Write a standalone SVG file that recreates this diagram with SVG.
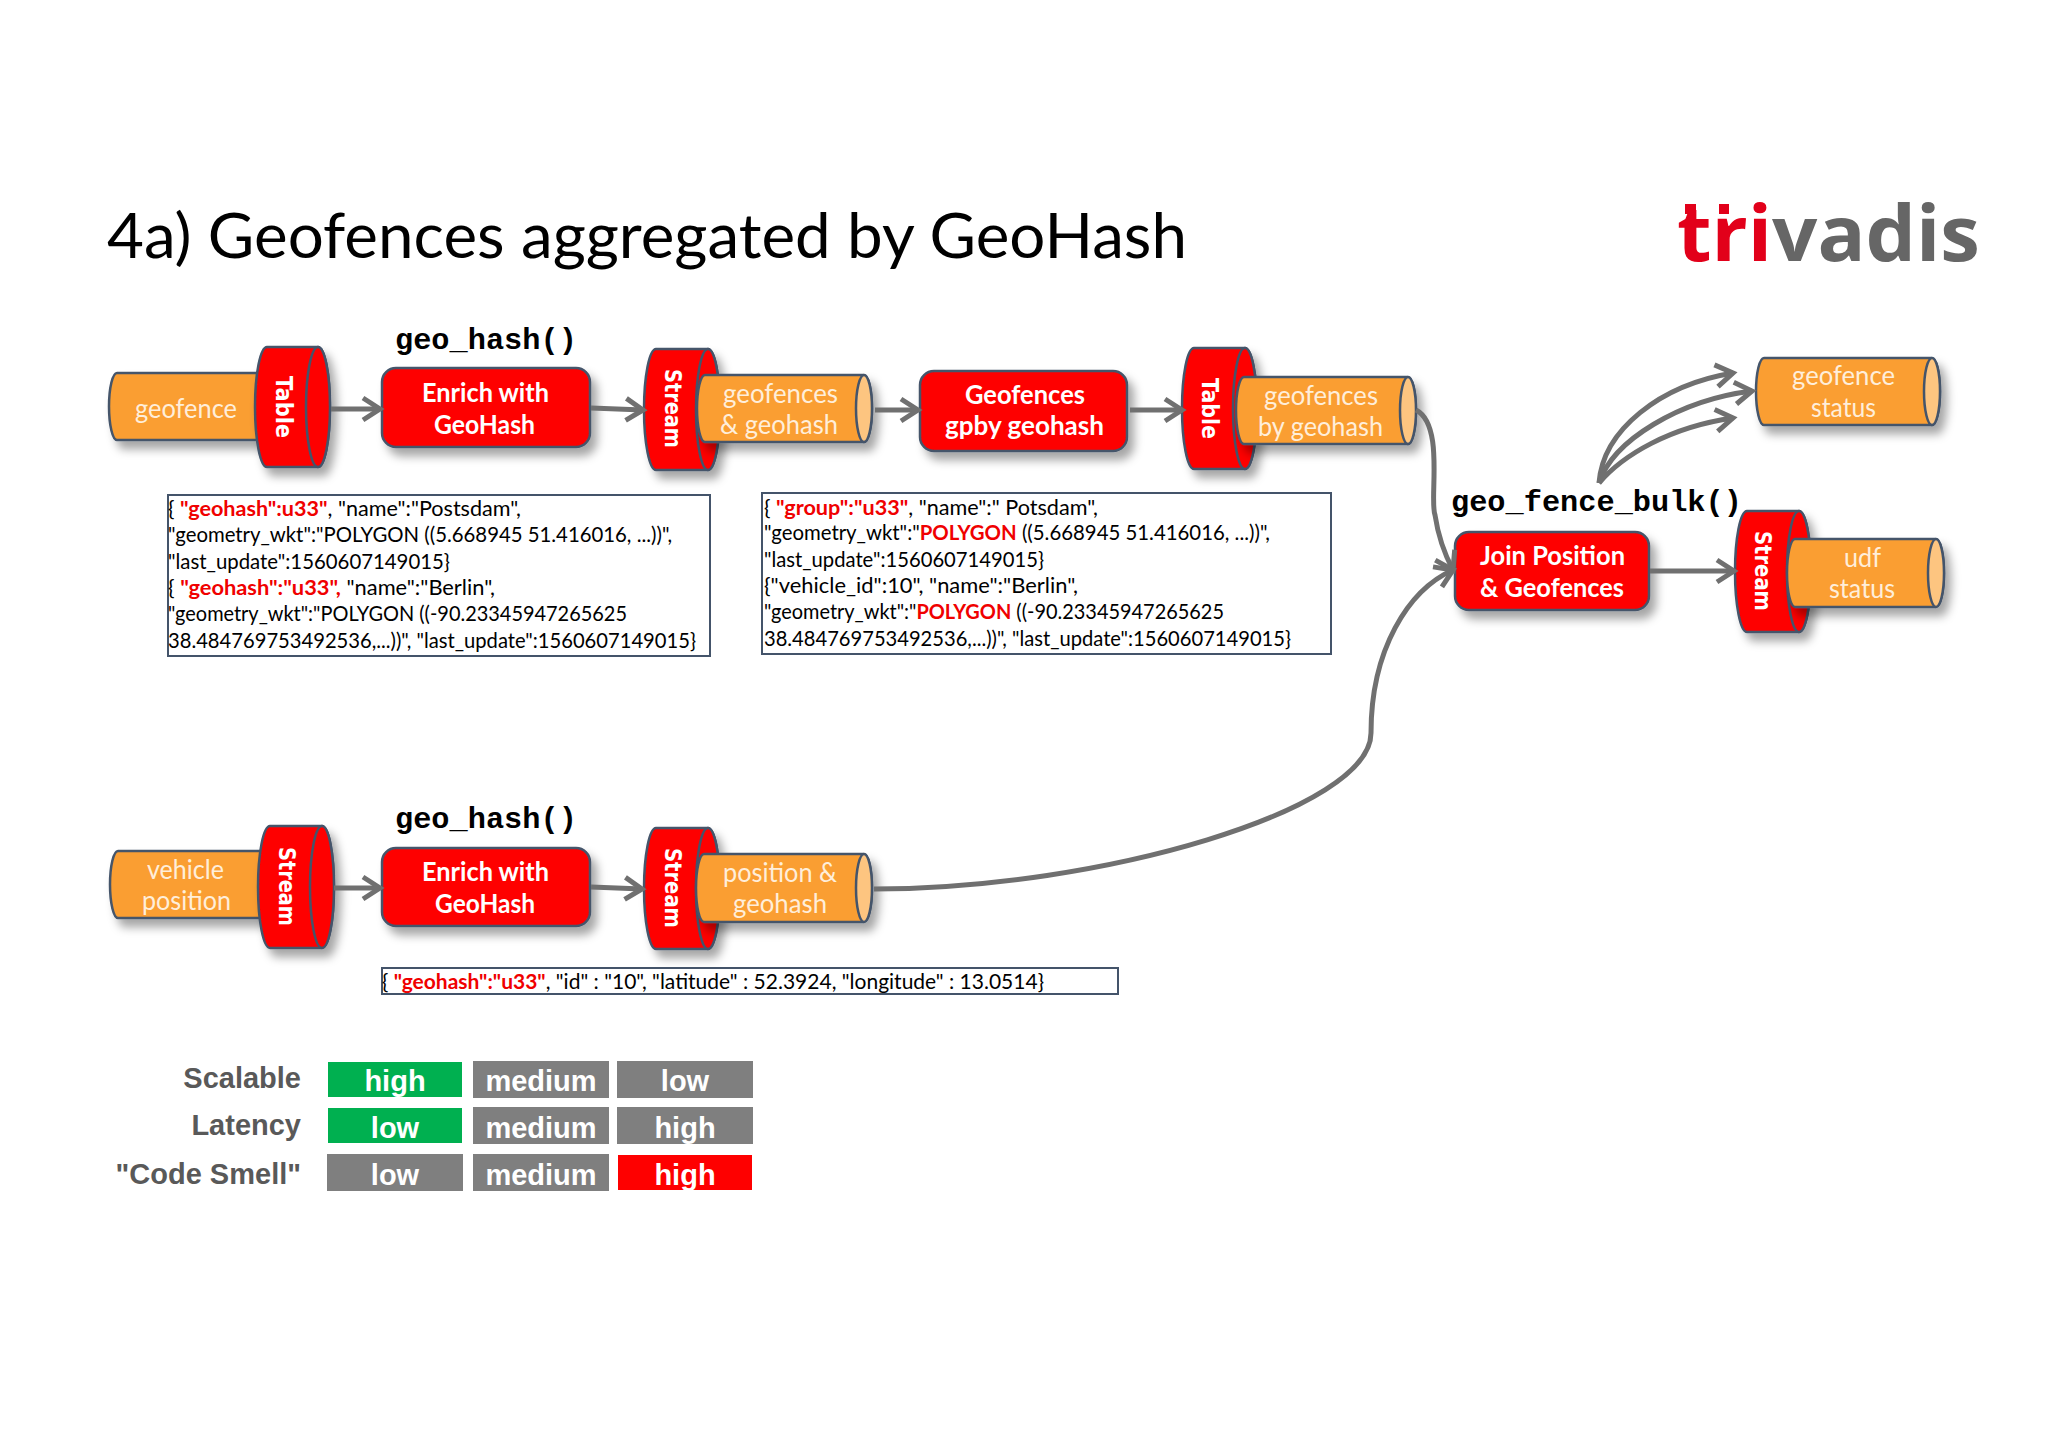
<svg xmlns="http://www.w3.org/2000/svg" width="2048" height="1447" viewBox="0 0 2048 1447">
<style>
text{font-family:Lato,"Liberation Sans",sans-serif}
.o{fill:#fa9e32;stroke:#44546a;stroke-width:2.5;filter:url(#sh)}
.oe{fill:#fdc580;stroke:#44546a;stroke-width:2.5}
.r{fill:#fe0000;stroke:#44546a;stroke-width:2.5;filter:url(#sh)}
.re{fill:#fe0000;stroke:#44546a;stroke-width:2.5}
.ot{fill:#ffeeda;font-size:27px;text-anchor:start}
.rt{fill:#fff;font-size:27px;font-weight:700}
.vt{fill:#fff;font-family:"DejaVu Sans",sans-serif;font-size:23px;font-weight:700}
.fn{font-family:"Liberation Mono",monospace;font-weight:700;font-size:30.3px;fill:#000}
.box{fill:#fff;stroke:#44546a;stroke-width:2}
.j{font-size:20.5px;fill:#000}
.k{font-weight:700;fill:#f00000}
.lb{font-family:"Liberation Sans",sans-serif;font-weight:700;font-size:29px;fill:#595959;text-anchor:end}
.cv{font-family:"Liberation Sans",sans-serif;font-weight:700;font-size:29px;fill:#fff;text-anchor:middle}
.g{fill:#00b050}.y{fill:#7f7f7f}.d{fill:#fe0000}
.c{fill:none;stroke:#707070;stroke-width:5;marker-end:url(#ar)}
</style>
<defs>
<filter id="sh" x="-20%" y="-20%" width="150%" height="150%"><feDropShadow dx="6" dy="8" stdDeviation="5" flood-color="#000" flood-opacity="0.35"/></filter>
<marker id="ar" markerUnits="userSpaceOnUse" markerWidth="32" markerHeight="32" refX="23" refY="16" orient="auto"><path d="M6 5 L23 16 L6 27" fill="none" stroke="#707070" stroke-width="5"/></marker>
</defs>
<rect width="2048" height="1447" fill="#fff"/>
<text id="title" x="107" y="258" font-size="62" fill="#000" textLength="1080" lengthAdjust="spacingAndGlyphs">4a) Geofences aggregated by GeoHash</text>
<g id="logo">
<rect x="1685" y="204" width="11" height="10" fill="#e2001a"/><rect x="1719" y="204" width="10" height="10" fill="#e2001a"/>
<text x="1677" y="261" style="font-family:'Open Sans',sans-serif;font-weight:700;font-size:77px" fill="#666" textLength="303" lengthAdjust="spacingAndGlyphs"><tspan fill="#e2001a">tri</tspan>vadis</text>
</g>

<g id="geofence"><path class="o" d="M117 373H262V440H117A8 33.5 0 0 1 117 373Z"/><text class="ot" x="135" y="418" textLength="102" lengthAdjust="spacingAndGlyphs">geofence</text></g>
<g id="table1"><path class="r" d="M267 347H318A12 60 0 0 1 318 467H267A12 60 0 0 1 267 347Z"/><ellipse class="re" cx="318" cy="407" rx="12" ry="60"/><text class="vt" transform="translate(276 376) rotate(90)" textLength="62" lengthAdjust="spacingAndGlyphs">Table</text></g>
<g id="enrich1"><rect class="r" x="382" y="368" width="208" height="79" rx="14"/><text class="rt" x="422" y="402" textLength="127" lengthAdjust="spacingAndGlyphs">Enrich with</text><text class="rt" x="434" y="434" textLength="101" lengthAdjust="spacingAndGlyphs">GeoHash</text></g>
<g id="stream1"><path class="r" d="M656 349H708A12 60.5 0 0 1 708 470H656A12 60.5 0 0 1 656 349Z"/><ellipse class="re" cx="708" cy="409.5" rx="12" ry="60.5"/><text class="vt" transform="translate(665 369) rotate(90)" textLength="79" lengthAdjust="spacingAndGlyphs">Stream</text></g>
<g id="geofences-geohash"><path class="o" d="M705 375H864A8 33.5 0 0 1 864 442H705A8 33.5 0 0 1 705 375Z"/><ellipse class="oe" cx="864" cy="408.5" rx="8" ry="33.5"/><text class="ot" x="723" y="403" textLength="115" lengthAdjust="spacingAndGlyphs">geofences</text><text class="ot" x="720" y="434" textLength="118" lengthAdjust="spacingAndGlyphs">&amp; geohash</text></g>
<g id="gpby"><rect class="r" x="920" y="371" width="207" height="80" rx="14"/><text class="rt" x="965" y="404" textLength="120" lengthAdjust="spacingAndGlyphs">Geofences</text><text class="rt" x="945" y="435" textLength="159" lengthAdjust="spacingAndGlyphs">gpby geohash</text></g>
<g id="table2"><path class="r" d="M1194 348H1245A12 60.5 0 0 1 1245 469H1194A12 60.5 0 0 1 1194 348Z"/><ellipse class="re" cx="1245" cy="408.5" rx="12" ry="60.5"/><text class="vt" transform="translate(1202 378) rotate(90)" textLength="61" lengthAdjust="spacingAndGlyphs">Table</text></g>
<g id="geofences-by-geohash"><path class="o" d="M1244 377H1408A8 33.5 0 0 1 1408 444H1244A8 33.5 0 0 1 1244 377Z"/><ellipse class="oe" cx="1408" cy="410.5" rx="8" ry="33.5"/><text class="ot" x="1264" y="405" textLength="114" lengthAdjust="spacingAndGlyphs">geofences</text><text class="ot" x="1258" y="436" textLength="125" lengthAdjust="spacingAndGlyphs">by geohash</text></g>
<g id="geofence-status"><path class="o" d="M1764 358H1932A8 33.5 0 0 1 1932 425H1764A8 33.5 0 0 1 1764 358Z"/><ellipse class="oe" cx="1932" cy="391.5" rx="8" ry="33.5"/><text class="ot" x="1792" y="385" textLength="103" lengthAdjust="spacingAndGlyphs">geofence</text><text class="ot" x="1811" y="417" textLength="65" lengthAdjust="spacingAndGlyphs">status</text></g>
<g id="join"><rect class="r" x="1455" y="532" width="194" height="78" rx="14"/><text class="rt" x="1480" y="565" textLength="145" lengthAdjust="spacingAndGlyphs">Join Position</text><text class="rt" x="1480" y="597" textLength="144" lengthAdjust="spacingAndGlyphs">&amp; Geofences</text></g>
<g id="stream3"><path class="r" d="M1747 511H1799A12 60.5 0 0 1 1799 632H1747A12 60.5 0 0 1 1747 511Z"/><ellipse class="re" cx="1799" cy="571.5" rx="12" ry="60.5"/><text class="vt" transform="translate(1755 531) rotate(90)" textLength="80" lengthAdjust="spacingAndGlyphs">Stream</text></g>
<g id="udf-status"><path class="o" d="M1795 539H1936A8 34 0 0 1 1936 607H1795A8 34 0 0 1 1795 539Z"/><ellipse class="oe" cx="1936" cy="573" rx="8" ry="34"/><text class="ot" x="1844" y="567" textLength="37" lengthAdjust="spacingAndGlyphs">udf</text><text class="ot" x="1829" y="598" textLength="66" lengthAdjust="spacingAndGlyphs">status</text></g>
<g id="vehicle-position"><path class="o" d="M118 851H262V918H118A8 33.5 0 0 1 118 851Z"/><text class="ot" x="147" y="879" textLength="77" lengthAdjust="spacingAndGlyphs">vehicle</text><text class="ot" x="142" y="910" textLength="89" lengthAdjust="spacingAndGlyphs">position</text></g>
<g id="stream-v"><path class="r" d="M270 826H322A12 61 0 0 1 322 948H270A12 61 0 0 1 270 826Z"/><ellipse class="re" cx="322" cy="887" rx="12" ry="61"/><text class="vt" transform="translate(279 847) rotate(90)" textLength="79" lengthAdjust="spacingAndGlyphs">Stream</text></g>
<g id="enrich2"><rect class="r" x="382" y="848" width="208" height="78" rx="14"/><text class="rt" x="422" y="881" textLength="127" lengthAdjust="spacingAndGlyphs">Enrich with</text><text class="rt" x="435" y="913" textLength="100" lengthAdjust="spacingAndGlyphs">GeoHash</text></g>
<g id="stream-p"><path class="r" d="M656 828H708A12 60.5 0 0 1 708 949H656A12 60.5 0 0 1 656 828Z"/><ellipse class="re" cx="708" cy="888.5" rx="12" ry="60.5"/><text class="vt" transform="translate(665 848) rotate(90)" textLength="80" lengthAdjust="spacingAndGlyphs">Stream</text></g>
<g id="position-geohash"><path class="o" d="M704 854H864A8 34 0 0 1 864 922H704A8 34 0 0 1 704 854Z"/><ellipse class="oe" cx="864" cy="888" rx="8" ry="34"/><text class="ot" x="723" y="882" textLength="114" lengthAdjust="spacingAndGlyphs">position &amp;</text><text class="ot" x="733" y="913" textLength="94" lengthAdjust="spacingAndGlyphs">geohash</text></g>

<text class="fn" x="395" y="349">geo_hash()</text>
<text class="fn" x="395" y="828">geo_hash()</text>
<text class="fn" x="1451" y="511">geo_fence_bulk()</text>

<g id="json1"><rect class="box" x="168" y="495" width="542" height="161"/>
<text class="j" x="168" y="516" textLength="353" lengthAdjust="spacingAndGlyphs">{ <tspan class="k">"geohash":u33"</tspan>, "name":"Postsdam",</text>
<text class="j" x="168" y="542" textLength="504" lengthAdjust="spacingAndGlyphs">"geometry_wkt":"POLYGON ((5.668945 51.416016, ...))",</text>
<text class="j" x="168" y="569" textLength="282" lengthAdjust="spacingAndGlyphs">"last_update":1560607149015}</text>
<text class="j" x="168" y="595" textLength="327" lengthAdjust="spacingAndGlyphs">{ <tspan class="k">"geohash":"u33",</tspan> "name":"Berlin",</text>
<text class="j" x="168" y="621" textLength="459" lengthAdjust="spacingAndGlyphs">"geometry_wkt":"POLYGON ((-90.23345947265625</text>
<text class="j" x="168" y="648" textLength="528" lengthAdjust="spacingAndGlyphs">38.484769753492536,...))", "last_update":1560607149015}</text></g>
<g id="json2"><rect class="box" x="762" y="493" width="569" height="161"/>
<text class="j" x="764" y="515" textLength="334" lengthAdjust="spacingAndGlyphs">{ <tspan class="k">"group":"u33"</tspan>, "name":" Potsdam",</text>
<text class="j" x="764" y="540" textLength="506" lengthAdjust="spacingAndGlyphs">"geometry_wkt":"<tspan class="k">POLYGON</tspan> ((5.668945 51.416016, ...))",</text>
<text class="j" x="764" y="567" textLength="280" lengthAdjust="spacingAndGlyphs">"last_update":1560607149015}</text>
<text class="j" x="764" y="593" textLength="314" lengthAdjust="spacingAndGlyphs">{"vehicle_id":10", "name":"Berlin",</text>
<text class="j" x="764" y="619" textLength="460" lengthAdjust="spacingAndGlyphs">"geometry_wkt":"<tspan class="k">POLYGON</tspan> ((-90.23345947265625</text>
<text class="j" x="764" y="646" textLength="527" lengthAdjust="spacingAndGlyphs">38.484769753492536,...))", "last_update":1560607149015}</text></g>
<g id="json3"><rect class="box" x="382" y="968" width="736" height="26"/>
<text class="j" x="382" y="989" textLength="662" lengthAdjust="spacingAndGlyphs">{ <tspan class="k">"geohash":"u33"</tspan>, "id" : "10", "latitude" : 52.3924, "longitude" : 13.0514}</text></g>

<g id="connectors">
<path class="c" d="M331 409H380"/>
<path class="c" d="M591 408L643 410"/>
<path class="c" d="M875 410H918"/>
<path class="c" d="M1130 410H1182"/>
<path class="c" d="M1416 410C1445 425 1429 500 1435 515C1438 535 1445 555 1453 570"/>
<path class="c" d="M874 889C1100 889 1371 810 1371 733C1371 650 1408 590 1453 570"/>
<path class="c" d="M1650 571H1734"/>
<path class="c" d="M334 888H380"/>
<path class="c" d="M591 887L642 889"/>
<path class="c" d="M1599 483C1603 430 1660 385 1733 373"/>
<path class="c" d="M1599 483C1613 440 1680 400 1752 391"/>
<path class="c" d="M1599 483C1623 455 1670 427 1733 418"/>
</g>

<g id="matrix">
<text class="lb" x="301" y="1088">Scalable</text><text class="lb" x="301" y="1135">Latency</text><text class="lb" x="301" y="1184">"Code Smell"</text>
<rect class="g" x="328" y="1062" width="134" height="35"/><rect class="y" x="473" y="1061" width="136" height="37"/><rect class="y" x="617" y="1061" width="136" height="37"/>
<rect class="g" x="328" y="1108" width="134" height="35"/><rect class="y" x="473" y="1107" width="136" height="37"/><rect class="y" x="617" y="1107" width="136" height="37"/>
<rect class="y" x="327" y="1154" width="136" height="37"/><rect class="y" x="473" y="1154" width="136" height="37"/><rect class="d" x="618" y="1155" width="134" height="35"/>
<text class="cv" x="395" y="1091">high</text><text class="cv" x="541" y="1091">medium</text><text class="cv" x="685" y="1091">low</text>
<text class="cv" x="395" y="1138">low</text><text class="cv" x="541" y="1138">medium</text><text class="cv" x="685" y="1138">high</text>
<text class="cv" x="395" y="1185">low</text><text class="cv" x="541" y="1185">medium</text><text class="cv" x="685" y="1185">high</text>
</g>
</svg>
